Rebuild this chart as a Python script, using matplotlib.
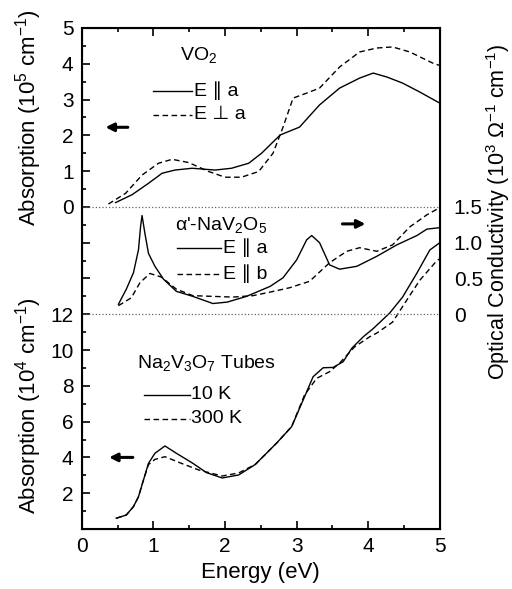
import matplotlib
matplotlib.use('Agg')
import matplotlib.pyplot as plt
import numpy as np

plt.rcParams['font.family'] = ['Liberation Sans', 'DejaVu Sans']
plt.rcParams['mathtext.fontset'] = 'custom'
plt.rcParams['mathtext.rm'] = 'Liberation Sans'
plt.rcParams['mathtext.it'] = 'Liberation Sans:italic'

# VO2 absorption (10^5 cm^-1)
vo2_par_e = [0.47, 0.70, 0.93, 1.12, 1.30, 1.54, 1.86, 2.09, 2.33, 2.51, 2.77, 3.04, 3.32, 3.60, 3.88, 4.07, 4.26, 4.48, 4.72, 5.00]
vo2_par = [0.12, 0.34, 0.66, 0.94, 1.03, 1.08, 1.03, 1.08, 1.22, 1.50, 2.01, 2.23, 2.85, 3.32, 3.60, 3.74, 3.63, 3.46, 3.21, 2.90]
vo2_perp_e = [0.37, 0.61, 0.84, 1.07, 1.26, 1.49, 1.77, 2.00, 2.23, 2.47, 2.67, 2.81, 2.95, 3.14, 3.32, 3.60, 3.88, 4.12, 4.34, 4.58, 4.90, 5.00]
vo2_perp = [0.08, 0.38, 0.89, 1.22, 1.33, 1.24, 0.99, 0.83, 0.83, 0.99, 1.50, 2.23, 3.04, 3.18, 3.32, 3.91, 4.33, 4.44, 4.47, 4.33, 4.02, 3.95]

# alpha'-NaV2O5 optical conductivity (10^3 Ohm^-1 cm^-1)
nav_a_e = [0.51, 0.62, 0.72, 0.79, 0.82, 0.84, 0.88, 0.93, 1.02, 1.14, 1.32, 1.55, 1.83, 2.03, 2.30, 2.63, 2.81, 3.00, 3.14, 3.21, 3.32, 3.46, 3.60, 3.84, 4.12, 4.40, 4.68, 4.82, 5.00]
nav_a = [0.14, 0.35, 0.58, 0.90, 1.23, 1.38, 1.13, 0.85, 0.67, 0.49, 0.32, 0.25, 0.15, 0.17, 0.25, 0.39, 0.51, 0.76, 1.04, 1.10, 1.00, 0.69, 0.63, 0.67, 0.81, 0.97, 1.10, 1.19, 1.21]
nav_b_e = [0.51, 0.69, 0.81, 0.95, 1.11, 1.32, 1.55, 1.83, 2.11, 2.39, 2.63, 2.90, 3.18, 3.46, 3.70, 3.88, 4.12, 4.34, 4.58, 4.82, 5.00]
nav_b = [0.12, 0.23, 0.44, 0.57, 0.52, 0.35, 0.26, 0.25, 0.24, 0.26, 0.31, 0.37, 0.46, 0.72, 0.88, 0.93, 0.88, 0.97, 1.22, 1.39, 1.49]

# Na2V3O7 tubes absorption (10^4 cm^-1)
tube10_e = [0.48, 0.62, 0.72, 0.79, 0.86, 0.93, 1.02, 1.16, 1.32, 1.55, 1.74, 1.96, 2.19, 2.42, 2.72, 2.93, 3.09, 3.23, 3.37, 3.51, 3.65, 3.77, 3.93, 4.07, 4.30, 4.48, 4.68, 4.86, 5.00]
tube10 = [0.60, 0.78, 1.25, 1.80, 2.74, 3.67, 4.23, 4.64, 4.23, 3.67, 3.15, 2.85, 3.02, 3.60, 4.80, 5.72, 7.20, 8.51, 9.01, 9.03, 9.35, 10.10, 10.74, 11.20, 12.07, 12.96, 14.30, 15.59, 16.00]
tube300_e = [0.48, 0.62, 0.72, 0.79, 0.86, 0.93, 1.02, 1.16, 1.37, 1.63, 1.96, 2.19, 2.42, 2.72, 2.93, 3.11, 3.28, 3.46, 3.60, 3.81, 4.02, 4.12, 4.34, 4.54, 4.72, 4.96, 5.00]
tube300 = [0.60, 0.78, 1.25, 1.80, 2.74, 3.60, 3.89, 4.04, 3.70, 3.30, 2.96, 3.13, 3.60, 4.80, 5.72, 7.49, 8.42, 8.79, 9.27, 10.18, 10.74, 10.95, 11.56, 12.80, 13.90, 15.00, 15.10]

# stacked panels share one axis: offsets / scales
top_off, top_sc = 18, 2
mid_off, mid_sc = 12, 4

fig = plt.figure(figsize=(5.12, 5.89), dpi=100)
ax = fig.add_axes([0.160, 0.1019, 0.699, 0.8506])
lw = 1.0
dash = (0, (4, 2.5))

ax.plot(vo2_par_e, top_off + top_sc * np.array(vo2_par), 'k-', lw=lw)
ax.plot(vo2_perp_e, top_off + top_sc * np.array(vo2_perp), 'k', ls=dash, lw=lw)
ax.plot(nav_a_e, mid_off + mid_sc * np.array(nav_a), 'k-', lw=lw)
ax.plot(nav_b_e, mid_off + mid_sc * np.array(nav_b), 'k', ls=dash, lw=lw)
ax.plot(tube10_e, tube10, 'k-', lw=lw)
ax.plot(tube300_e, tube300, 'k', ls=dash, lw=lw)

ax.axhline(top_off, color='0.4', ls=':', lw=0.9)
ax.axhline(mid_off, color='0.4', ls=':', lw=0.9)

ax.set_xlim(0, 5)
ax.set_ylim(0, 28)
ax.set_xticks(range(6))
ax.set_xticks(np.arange(0.5, 5, 1.0), minor=True)
left_pos = [2, 4, 6, 8, 10, 12, 14, 16, 18, 20, 22, 24, 26, 28]
left_lab = ['2', '4', '6', '8', '10', '12', '', '', '0', '1', '2', '3', '4', '5']
ax.set_yticks(left_pos)
ax.set_yticklabels(left_lab)
ax.set_yticks(np.arange(1, 28, 2), minor=True)
ax.tick_params(which='both', direction='in', top=True, right=True, labelsize=15, width=1.2)
ax.tick_params(which='major', length=6, pad=6)
ax.tick_params(which='minor', length=3)
for s in ax.spines.values():
    s.set_linewidth(1.5)

ax2 = ax.twinx()
ax2.set_ylim(0, 28)
ax2.set_yticks([12, 14, 16, 18])
ax2.set_yticklabels(['0', '0.5', '1.0', '1.5'])
ax2.tick_params(length=0, labelsize=15, pad=10)

ax.set_xlabel('Energy (eV)', fontsize=16, labelpad=4)
fig.text(0.055, 0.80, 'Absorption (10$^5$ cm$^{-1}$)', rotation=90, fontsize=16, ha='center', va='center')
fig.text(0.055, 0.312, 'Absorption (10$^4$ cm$^{-1}$)', rotation=90, fontsize=16, ha='center', va='center')
fig.text(0.972, 0.64, 'Optical Conductivity (10$^3$ \u03a9$^{-1}$ cm$^{-1}$)', rotation=90, fontsize=15.5, ha='center', va='center')

fs = 14
# VO2 legend
ax.text(1.37, 26.5, 'VO$_2$', fontsize=fs, ha='left', va='center')
ax.plot([0.99, 1.54], [24.5, 24.5], 'k-', lw=lw)
ax.text(1.56, 24.5, 'E \u2225 a', fontsize=fs, va='center')
ax.plot([0.99, 1.54], [23.15, 23.15], 'k', ls=dash, lw=lw)
ax.text(1.56, 23.15, 'E \u22a5 a', fontsize=fs, va='center')

# NaV2O5 legend
ax.text(1.30, 17.0, "\u03b1'-NaV$_2$O$_5$", fontsize=fs, va='center')
ax.plot([1.33, 1.95], [15.7, 15.7], 'k-', lw=lw)
ax.text(1.97, 15.7, 'E \u2225 a', fontsize=fs, va='center')
ax.plot([1.33, 1.95], [14.25, 14.25], 'k', ls=dash, lw=lw)
ax.text(1.97, 14.25, 'E \u2225 b', fontsize=fs, va='center')

# tubes legend
ax.text(0.77, 9.27, 'Na$_2$V$_3$O$_7$ Tubes', fontsize=fs, va='center')
ax.plot([0.87, 1.51], [7.5, 7.5], 'k-', lw=lw)
ax.text(1.53, 7.5, '10 K', fontsize=fs, va='center')
ax.plot([0.87, 1.51], [6.15, 6.15], 'k', ls=dash, lw=lw)
ax.text(1.53, 6.15, '300 K', fontsize=fs, va='center')

arrow = dict(arrowstyle='-|>', lw=2.2, color='k', mutation_scale=12)
ax.annotate('', xy=(0.29, 22.45), xytext=(0.68, 22.45), arrowprops=arrow)
ax.annotate('', xy=(4.0, 17.05), xytext=(3.6, 17.05), arrowprops=arrow)
ax.annotate('', xy=(0.34, 4.0), xytext=(0.75, 4.0), arrowprops=arrow)

fig.savefig('out.png', dpi=100)
